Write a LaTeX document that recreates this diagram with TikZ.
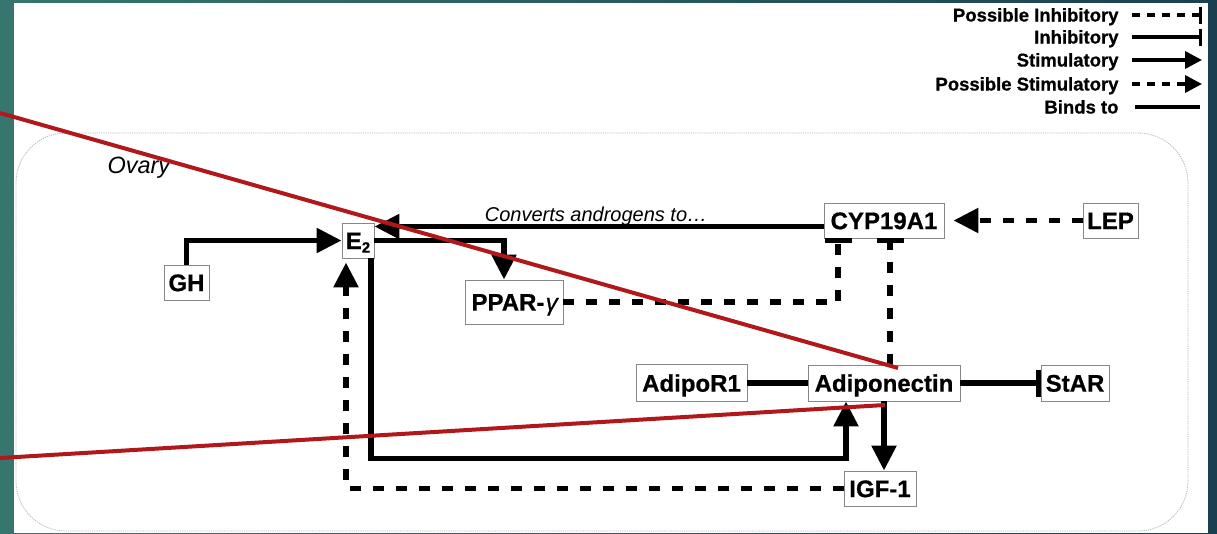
\documentclass[tikz,border=0pt]{standalone}
\usepackage{fontspec}
\setmainfont{Liberation Sans}
\newfontface\labelface[FakeBold=0.7]{Liberation Sans Bold}
\usetikzlibrary{arrows.meta,calc}
\definecolor{bandL}{RGB}{54,118,110}
\definecolor{bandR}{RGB}{26,64,80}
\definecolor{boxline}{RGB}{135,135,135}
\definecolor{ovaryline}{RGB}{185,185,185}
\definecolor{strike}{RGB}{176,24,27}
\begin{document}
\begin{tikzpicture}[x=1pt,y=-1pt,
  gene/.style={draw=boxline, line width=0.9pt, fill=white, inner xsep=1pt, inner ysep=0pt,
    minimum height=35pt, text height=17.3pt, text depth=0pt,
    font=\fontsize{24}{26}\labelface},
  link/.style={line width=5.5pt},
  maybe/.style={link, dash pattern=on 11pt off 12pt},
  stim/.style={-{Triangle[length=25pt,width=24pt]}},
  inhib/.style={-{Bar[width=27pt,line width=5pt]}},
  keytext/.style={anchor=east, text height=13pt, text depth=0pt,
    font=\fontsize{18.5}{20}\labelface},
  keyline/.style={line width=3.5pt},
  keymaybe/.style={keyline, dash pattern=on 8pt off 7pt},
  keystim/.style={-{Triangle[length=17pt,width=17pt]}},
  keyinhib/.style={-{Bar[width=17pt,line width=3pt]}},
  note/.style={font=\fontsize{20}{22}\selectfont\itshape}
]
% slide backdrop and canvas
\useasboundingbox (0,0) rectangle (1217,533);
\fill[left color=bandL, right color=bandR] (0,0) rectangle (1217,533);
\fill[white] (14,3) rectangle (1208,533);

% ovary compartment
\draw[ovaryline, line width=0.8pt, dash pattern=on 1.2pt off 1pt, rounded corners=50pt]
  (16,133) rectangle (1188,531);
\node[font=\fontsize{23.5}{25}\selectfont\itshape, anchor=west] (ovary) at (104,168) {Ovary};

% legend
\foreach \lbl/\yy/\nm in {Possible Inhibitory/15/kA, Inhibitory/37/kB, Stimulatory/60/kC,
    Possible Stimulatory/84/kD, Binds to/107/kE}{
  \node[keytext] (\nm) at (1122,\yy) {\lbl};
  \coordinate (\nm-end) at (1202,\yy);
}
\draw[keymaybe, keyinhib] ([xshift=10pt]kA.east) -- (kA-end);
\draw[keyline, keyinhib] ([xshift=10pt]kB.east) -- (kB-end);
\draw[keyline, keystim] ([xshift=10pt]kC.east) -- (kC-end);
\draw[keymaybe, keystim] ([xshift=10pt]kD.east) -- (kD-end);
\draw[keyline] ([xshift=13pt]kE.east) -- ([xshift=-2pt]kE-end);

% molecules
\node[gene, minimum width=45pt] (GH) at (186.5,282.5) {GH};
\node[gene, minimum width=32pt] (E2) at (358,240.5) {E\raisebox{-3.5pt}{\fontsize{15}{15}\selectfont 2}};
\node[gene, minimum width=98pt, minimum height=44pt] (PPAR) at (514,302) {PPAR-{\fontspec{Liberation Sans}[FakeBold=0.7,FakeSlant=0.2]γ}};
\node[gene, minimum width=120pt] (CYP) at (884,220.5) {CYP19A1};
\node[gene, minimum width=55pt] (LEP) at (1110.5,220.5) {LEP};
\node[gene, minimum width=111pt, minimum height=37pt] (AdipoR1) at (691.5,383) {AdipoR1};
\node[gene, minimum width=152pt, minimum height=36pt] (Adip) at (884,383) {Adiponectin};
\node[gene, minimum width=68pt, minimum height=36pt] (StAR) at (1075,383) {StAR};
\node[gene, minimum width=72pt] (IGF) at (880,488.5) {IGF-1};

% interactions
\draw[link, stim] (GH.north) |- (E2.west);
\coordinate (cypIn) at ([yshift=-6pt]CYP.west);
\draw[link, stim] (cypIn) -- (cypIn -| E2.east);
\node[note, anchor=base] (conv) at (596,221) {Converts androgens to…};
\draw[link, stim] (E2.east) -| ([xshift=-10pt]PPAR.north);
\draw[link, stim] ([xshift=13pt]E2.south) |- ([xshift=-38pt,yshift=-57pt]Adip.south)
  -- ([xshift=-38pt]Adip.south);
\draw[maybe, stim] (IGF.west) -| ([xshift=-12pt,yshift=-4pt]E2.south);
\draw[maybe, inhib] (PPAR.east) -| ([xshift=-46pt]CYP.south);
\draw[maybe, inhib] ([xshift=6pt]Adip.north) -- ([xshift=6pt]CYP.south);
\draw[maybe, stim] (LEP.west) -- ([xshift=9pt]CYP.east);
\draw[link] (AdipoR1.east) -- (Adip.west);
\draw[link, inhib] (Adip.east) -- (StAR.west);
\draw[link, stim] (Adip.south) -- (Adip.south |- IGF.north);

% red strike-through strokes
\coordinate (s1a) at (0,113);
\coordinate (s1b) at (898,368);
\coordinate (s2a) at (0,458);
\coordinate (s2b) at (885,405);
\draw[strike, line width=4pt] (s1a) -- (s1b);
\draw[strike, line width=4pt] (s2a) -- (s2b);
\end{tikzpicture}
\end{document}
